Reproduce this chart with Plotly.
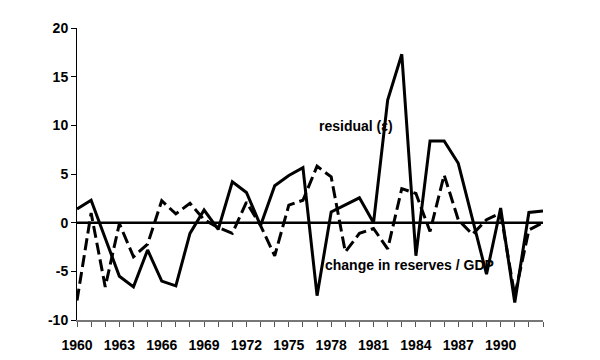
import plotly.graph_objects as go

years = list(range(1960, 1994))
residual = [1.4, 2.3, -1.6, -5.5, -6.6, -2.8, -6.0, -6.5, -1.1, 1.3, -0.7,
            4.2, 3.1, -0.3, 3.8, 4.85, 5.65, -7.5, 1.1, 1.8, 2.55, 0.0,
            12.6, 17.3, -3.4, 8.4, 8.4, 6.1, 0.5, -5.3, 1.5, -8.2, 1.05, 1.2]
reserves = [-8.0, 1.0, -6.6, -0.1, -3.5, -2.2, 2.25, 0.9, 2.0, 0.3, -0.5,
            -1.1, 2.1, -0.3, -3.4, 1.8, 2.3, 5.8, 4.7, -3.0, -1.1, -0.6,
            -2.7, 3.5, 3.0, -0.9, 4.9, 0.3, -1.2, 0.3, 1.0, -7.5, -0.75, 0.0]
tick_labels = ["1960", "", "", "1963", "", "", "1966", "", "", "1969", "", "",
               "1972", "", "", "1975", "", "", "1978", "", "", "1981", "", "",
               "1984", "", "", "1987", "", "", "1990", "", "", ""]
y_ticks = [-10, -5, 0, 5, 10, 15, 20]

font = dict(family="Liberation Sans, Arial, sans-serif", size=14, color="black")

fig = go.Figure()
fig.add_trace(go.Scatter(x=years, y=reserves, mode="lines",
                         line=dict(color="black", width=3, dash="12px,5px"),
                         showlegend=False))
fig.add_trace(go.Scatter(x=years, y=residual, mode="lines",
                         line=dict(color="black", width=3),
                         showlegend=False))

fig.add_shape(type="line", xref="x", yref="y", x0=years[0], x1=years[-1], y0=0, y1=0,
              line=dict(color="black", width=2.5))

fig.add_annotation(x=1977.0, y=9.9, text="<b>residual (ε)</b>", showarrow=False,
                   xanchor="left", yanchor="middle", font=font)
fig.add_annotation(x=1977.4, y=-4.3, text="<b>change in reserves / GDP</b>", showarrow=False,
                   xanchor="left", yanchor="middle", font=font)

fig.update_layout(
    width=592, height=352,
    margin=dict(l=69, r=57, t=20, b=40, autoexpand=False),
    paper_bgcolor="white", plot_bgcolor="white",
    font=font,
    xaxis=dict(range=[years[0], years[-1]], tickvals=years,
               ticktext=["<b>%s</b>" % t if t else "" for t in tick_labels],
               ticks="outside", ticklen=5, tickcolor="#555", tickwidth=1,
               showline=True, linecolor="#777", linewidth=1.5,
               showgrid=False, zeroline=False, ticklabelstandoff=6,
               automargin=False),
    yaxis=dict(range=[-10, 20], tickvals=y_ticks,
               ticktext=["<b>%d</b>" % v for v in y_ticks],
               ticks="outside", ticklen=5, tickcolor="black", tickwidth=1,
               showline=True, linecolor="black", linewidth=1,
               showgrid=False, zeroline=False, automargin=False),
)

fig.write_html("out.html")
